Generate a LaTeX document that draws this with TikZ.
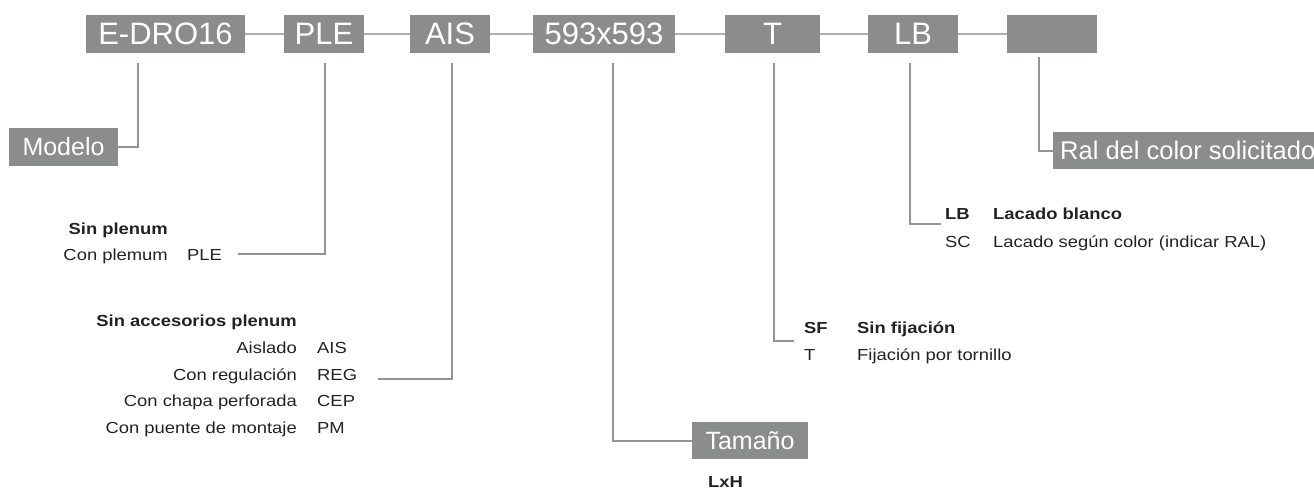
\documentclass[tikz,border=0pt]{standalone}
\usepackage{fontspec}
\usepackage{tikz}
\usetikzlibrary{positioning}
\newfontfamily\boxfont{Liberation Sans}
\newfontfamily\txtfont[FakeStretch=1.15]{Liberation Sans}
\definecolor{boxgrey}{HTML}{8B8D8D}
\definecolor{linegrey}{HTML}{939595}
\definecolor{linkgrey}{HTML}{AEB0B0}
\definecolor{ink}{HTML}{222222}

\begin{document}
\begin{tikzpicture}[x=1pt,y=-1pt]
\tikzstyle{codebox}=[fill=boxgrey,text=white,inner sep=0pt,minimum height=38pt,font=\boxfont\fontsize{31}{34}\selectfont]
\tikzstyle{tagbox}=[fill=boxgrey,text=white,inner sep=0pt,minimum height=37pt,font=\boxfont\fontsize{25}{28}\selectfont]
\tikzstyle{link}=[linkgrey,line width=2.6pt]
\tikzstyle{lead}=[linegrey,line width=2pt]
\tikzstyle{opt}=[ink,inner sep=0pt,font=\txtfont\fontsize{16}{18}\selectfont]
\tikzstyle{optb}=[opt,font=\txtfont\bfseries\fontsize{16}{18}\selectfont]
\useasboundingbox (0,0) rectangle (1314,488);
% code boxes
\node [codebox,minimum width=159pt] at (165.5,34) (model) {E-DRO16};
\node [codebox,minimum width=80pt] at (324,34) (plenum) {PLE};
\node [codebox,minimum width=80pt] at (450,34) (acc) {AIS};
\node [codebox,minimum width=142pt] at (604,34) (size) {593x593};
\node [codebox,minimum width=95pt] at (772.5,34) (fix) {T};
\node [codebox,minimum width=90pt] at (913,34) (finish) {LB};
\node [codebox,minimum width=90pt] at (1052,34) (ral) {};
\draw [link] (model) -- (plenum);
\draw [link] (plenum) -- (acc);
\draw [link] (acc) -- (size);
\draw [link] (size) -- (fix);
\draw [link] (fix) -- (finish);
\draw [link] (finish) -- (ral);
% tags
\node [tagbox,minimum width=109pt,minimum height=38pt] at (63.5,147) (modeltag) {Modelo};
\node [tagbox,minimum width=116pt] at (750,440.5) (sizetag) {Tamaño};
\node [tagbox,anchor=west,font=\boxfont\fontsize{25.5}{28}\selectfont] at (1053,150.5) (raltag) {\hspace{7pt}Ral del color solicitado\hspace{4pt}};
% leads
\coordinate (m0) at (138,63);
\coordinate (p0) at (325,63);
\coordinate (p1) at (238,254);
\coordinate (a0) at (452,63);
\coordinate (a1) at (378,379);
\coordinate (s0) at (613,63);
\coordinate (f0) at (774,63);
\coordinate (f1) at (794,341);
\coordinate (l0) at (910,63);
\coordinate (l1) at (941,224);
\coordinate (r0) at (1039,57);
\draw [lead] (m0) |- (modeltag);
\draw [lead] (p0) |- (p1);
\draw [lead] (a0) |- (a1);
\draw [lead] (s0) |- (sizetag);
\draw [lead] (f0) |- (f1);
\draw [lead] (l0) |- (l1);
\draw [lead] (r0) |- (raltag);
% plenum
\node [optb,anchor=base east] at (168,234) (pl0) {Sin plenum};
\node [opt,anchor=base east] at (168,260) (pl1) {Con plemum};
\node [opt,anchor=base west] at (187,260) (pl1c) {PLE};
% accesorios
\node [optb,anchor=base east] at (297,326) (ac0) {Sin accesorios plenum};
\node [opt,anchor=base east] at (297,353) (ac1) {Aislado};
\node [opt,anchor=base east] at (297,380) (ac2) {Con regulación};
\node [opt,anchor=base east] at (297,406) (ac3) {Con chapa perforada};
\node [opt,anchor=base east] at (297,433) (ac4) {Con puente de montaje};
\node [opt,anchor=base west] at (317,353) (ac1c) {AIS};
\node [opt,anchor=base west] at (317,380) (ac2c) {REG};
\node [opt,anchor=base west] at (317,406) (ac3c) {CEP};
\node [opt,anchor=base west] at (317,433) (ac4c) {PM};
% tamano
\node [optb,anchor=base west] at (708,487) (lxh) {LxH};
% fijacion
\node [optb,anchor=base west] at (804,333) (fx0c) {SF};
\node [optb,anchor=base west] at (857,333) (fx0) {Sin fijación};
\node [opt,anchor=base west] at (804,360) (fx1c) {T};
\node [opt,anchor=base west] at (857,360) (fx1) {Fijación por tornillo};
% acabado
\node [optb,anchor=base west] at (945,219) (lb0c) {LB};
\node [optb,anchor=base west] at (993,219) (lb0) {Lacado blanco};
\node [opt,anchor=base west] at (945,247) (lb1c) {SC};
\node [opt,anchor=base west] at (993,247) (lb1) {Lacado según color (indicar RAL)};
\end{tikzpicture}
\end{document}
